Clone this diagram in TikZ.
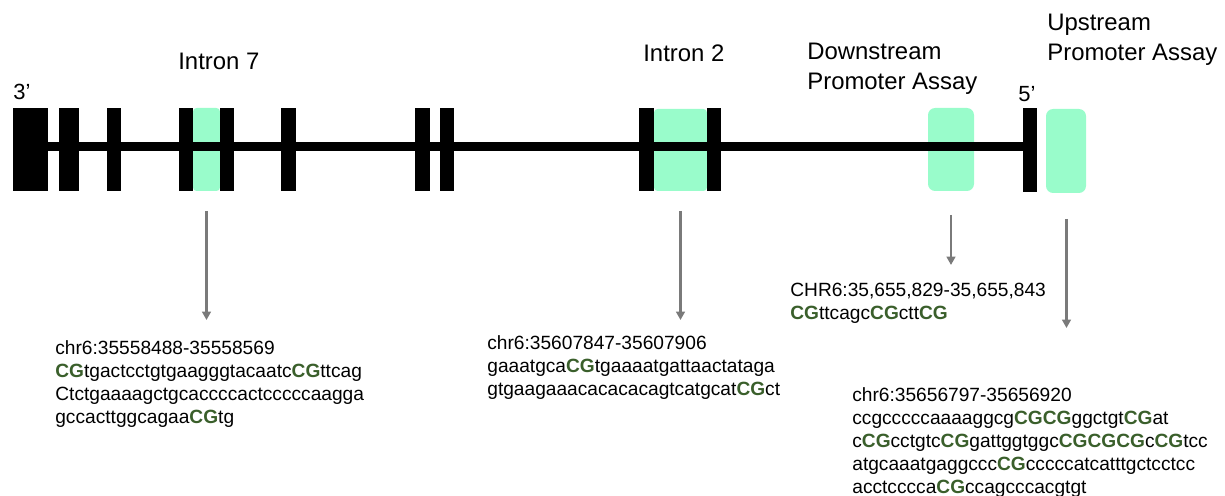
\documentclass[tikz,border=0pt]{standalone}
\usepackage{xcolor}
\usepackage{tikz}
\usepackage{fontspec}
\setmainfont{Liberation Sans}
\usetikzlibrary{arrows.meta}
\usetikzlibrary{positioning}
\definecolor{assay}{HTML}{99FCCB}
\definecolor{cpggreen}{HTML}{3A5F2B}
\definecolor{pointer}{HTML}{7A7A7A}
\newcommand{\cpg}{\textcolor{cpggreen}{\textbf{CG}}}
\tikzset{
    exon/.style={fill=black},
    assaybox/.style={fill=assay, rounded corners=2pt},
    backbone/.style={line width=4.7pt, black},
    seqarrow/.style={draw=pointer, line width=1.5pt, -{Triangle[width=5pt,length=4.8pt]}},
    regionlabel/.style={anchor=north west, inner sep=0pt, align=left,
        font=\fontsize{13.6}{17}\selectfont},
    endlabel/.style={anchor=north west, inner sep=0pt, font=\fontsize{12.5}{15}\selectfont},
    seqtext/.style={anchor=north west, inner sep=0pt, align=left,
        font=\fontsize{10.9}{13.2}\selectfont},
}
\begin{document}
\begin{tikzpicture}[x=0.02cm, y=-0.02cm]
        \useasboundingbox (0,0) rectangle (1225,496);

        % assay regions (drawn first, the gene runs over them)
        \fill[assaybox] (193,108) rectangle (220,191); % Intron 7
        \fill[assaybox] (654,109) rectangle (707,191); % Intron 2
        \fill[assaybox, rounded corners=4pt] (928,108) rectangle (974,191); % Downstream
        \fill[assaybox, rounded corners=4pt] (1046,109) rectangle (1086,193); % Upstream
        \coordinate (intronA) at (206.5,191);
        \coordinate (intronB) at (680.5,191);
        \coordinate (downA) at (951,191);
        \coordinate (upA) at (1066.5,193);

        % gene backbone and exons
        \draw[backbone] (48,146.5) -- (1023,146.5);
        \foreach \xa/\xb in {13/48, 59/79, 107/121, 179/193, 220/234, 281/296,
                             415/430, 440/454, 639/654, 707/721}
            \fill[exon] (\xa,108) rectangle (\xb,191);
        \fill[exon] (1023,108) rectangle (1037,192); % first exon, 5' end

        \node[endlabel] (threeprime) at (13,84) {3’};
        \node[endlabel] (fiveprime) at (1018,86) {5’};

        \node[regionlabel] (intron7) at (178,53) {Intron 7};
        \node[regionlabel] (intron2) at (643,44) {Intron 2};
        \node[regionlabel] (downstream) at (807,43) {Downstream\\Promoter Assay};
        \node[regionlabel] (upstream) at (1047,14) {Upstream\\Promoter Assay};

        % sequences of each region
        \node[seqtext] (seqA) at (55,340) {chr6:35558488-35558569\\
            \cpg tgactcctgtgaagggtacaatc\cpg ttcag\\
            Ctctgaaaagctgcaccccactcccccaagga\\
            gccacttggcagaa\cpg tg};
        \node[seqtext] (seqB) at (487,335) {chr6:35607847-35607906\\
            gaaatgca\cpg tgaaaatgattaactataga\\
            gtgaagaaacacacacagtcatgcat\cpg ct};
        \node[seqtext] (seqC) at (790,283) {CHR6:35,655,829-35,655,843\\
            \cpg ttcagc\cpg ctt\cpg};
        \node[seqtext] (seqD) at (852,387) {chr6:35656797-35656920\\
            ccgcccccaaaaggcg\cpg\cpg ggctgt\cpg at\\
            c\cpg cctgtc\cpg gattggtggc\cpg\cpg\cpg c\cpg tcc\\
            atgcaaatgaggccc\cpg cccccatcatttgctcctcc\\
            acctcccca\cpg ccagcccacgtgt};

        % pointers from regions to sequences
        \coordinate (tipA) at (206.5,320);
        \coordinate (tipB) at (680.5,320);
        \coordinate (tipC) at (951,265);
        \coordinate (tipD) at (1066.5,328);
        \draw[seqarrow, shorten <=0.4cm] (intronA) -- (tipA);
        \draw[seqarrow, shorten <=0.4cm] (intronB) -- (tipB);
        \draw[seqarrow, shorten <=0.48cm] (downA) -- (tipC);
        \draw[seqarrow, shorten <=0.52cm] (upA) -- (tipD);
        \end{tikzpicture}
\end{document}
